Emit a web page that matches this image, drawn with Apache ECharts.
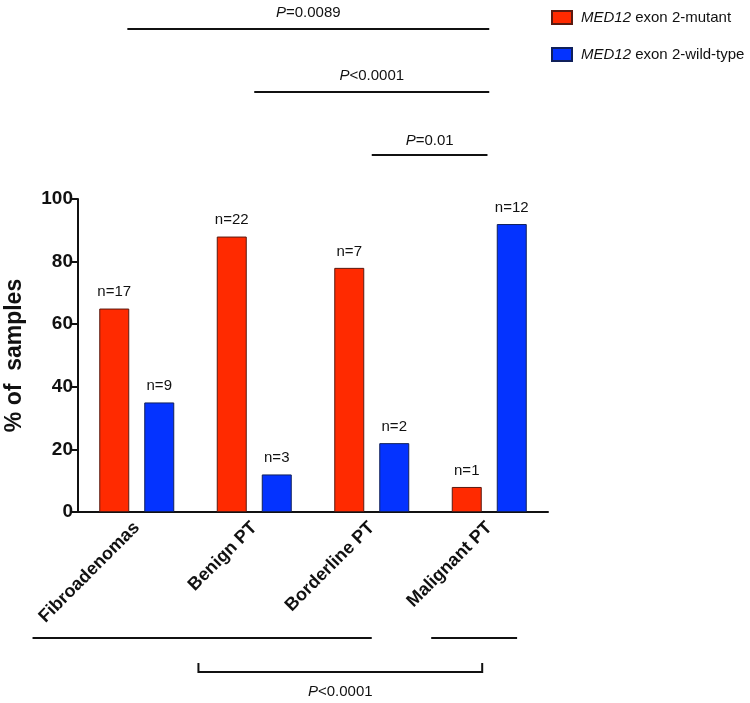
<!DOCTYPE html>
<html><head><meta charset="utf-8">
<script src="https://cdn.jsdelivr.net/npm/echarts@6/dist/echarts.min.js"></script>
<style>html,body{margin:0;padding:0;background:#fff}#c{width:750px;height:703px}</style>
</head><body><div id="c"></div>
<script>
var categories = ['Fibroadenomas', 'Benign PT', 'Borderline PT', 'Malignant PT'];
var mutantPct = [65, 88, 78, 8];
var wildPct = [35, 12, 22, 92];
var mutantN = ['n=17', 'n=22', 'n=7', 'n=1'];
var wildN = ['n=9', 'n=3', 'n=2', 'n=12'];
var yTicks = [0, 20, 40, 60, 80, 100];
// significance annotations: category-unit positions, pixel row, label
var topBars = [
  {from: -0.08, to: 3.0, y: 29, label: '=0.0089', textY: 13},
  {from: 1.0, to: 3.0, y: 92, label: '<0.0001', textY: 76},
  {from: 2.0, to: 2.985, y: 155, label: '=0.01', textY: 141}
];
var bottomLines = [{from: -0.887, to: 2.0, y: 638}, {from: 2.506, to: 3.237, y: 638}];
var bracket = {from: 0.525, to: 2.94, y: 672, h: 9, label: '<0.0001', textY: 692};

var chart = echarts.init(document.getElementById('c'), null, {renderer: 'canvas'});
var FONT = 'Liberation Sans, Arial, sans-serif';
var option = {
  animation: false,
  backgroundColor: '#fff',
  grid: {left: 78, right: 202, top: 199, bottom: 191, containLabel: false, outerBoundsMode: 'none'},
  legend: {
    orient: 'vertical', left: 546, top: 5, itemWidth: 20, itemHeight: 13, itemGap: 22,
    icon: 'rect',
    textStyle: {fontFamily: FONT, fontSize: 15, color: '#111', padding: [0, 0, 0, 4],
      rich: {i: {fontStyle: 'italic', fontFamily: FONT, fontSize: 15, color: '#111'}}},
    formatter: function (name) {
      return name === 'mut' ? '{i|MED12} exon 2-mutant' : '{i|MED12} exon 2-wild-type';
    },
    data: ['mut', 'wt']
  },
  xAxis: {
    type: 'category', data: categories,
    axisLine: {lineStyle: {color: '#111', width: 2}},
    axisTick: {alignWithLabel: true, length: 5, lineStyle: {color: '#111', width: 2}},
    axisLabel: {rotate: 45, fontFamily: FONT, fontWeight: 'bold', fontSize: 18, color: '#111', margin: 13, interval: 0}
  },
  yAxis: {
    type: 'value', min: 0, max: 100, interval: 20,
    name: '% of  samples', nameLocation: 'middle', nameGap: 52,
    nameTextStyle: {fontFamily: FONT, fontWeight: 'bold', fontSize: 23, color: '#111'},
    axisLine: {show: true, lineStyle: {color: '#111', width: 2}},
    axisTick: {show: true, length: 7, lineStyle: {color: '#111', width: 2}},
    splitLine: {show: false},
    axisLabel: {fontFamily: FONT, fontWeight: 'bold', fontSize: 19, color: '#111', margin: 5,
      formatter: function (v) { return yTicks.indexOf(v) >= 0 ? String(v) : ''; }}
  },
  series: [
    {name: 'mut', type: 'bar', data: mutantPct, barWidth: 30, barGap: '50%',
      itemStyle: {color: '#ff2a00', borderColor: '#5a1a10', borderWidth: 1},
      label: {show: true, position: 'top', distance: 9, fontFamily: FONT, fontSize: 15, color: '#111',
        formatter: function (p) { return mutantN[p.dataIndex]; }}},
    {name: 'wt', type: 'bar', data: wildPct, barWidth: 30,
      itemStyle: {color: '#0433ff', borderColor: '#10205a', borderWidth: 1},
      label: {show: true, position: 'top', distance: 9, fontFamily: FONT, fontSize: 15, color: '#111',
        formatter: function (p) { return wildN[p.dataIndex]; }}}
  ]
};
chart.setOption(option);

var c0 = chart.convertToPixel({xAxisIndex: 0}, 0);
var c1 = chart.convertToPixel({xAxisIndex: 0}, 1);
var band = c1 - c0;
function px(f) { return c0 + f * band; }
var g = [];
var lineStyle = {stroke: '#111', lineWidth: 2};
function pText(x, y, rest) {
  return {type: 'text', x: x, y: y, style: {
    text: '{i|P}{n|' + rest + '}', align: 'center', verticalAlign: 'middle',
    rich: {i: {fontStyle: 'italic', fontFamily: FONT, fontSize: 15, fill: '#111'},
           n: {fontFamily: FONT, fontSize: 15, fill: '#111'}}}};
}
topBars.forEach(function (b) {
  var x1 = px(b.from), x2 = px(b.to);
  g.push({type: 'line', shape: {x1: x1, y1: b.y, x2: x2, y2: b.y}, style: lineStyle});
  g.push(pText((x1 + x2) / 2, b.textY, b.label));
});
bottomLines.forEach(function (b) {
  g.push({type: 'line', shape: {x1: px(b.from), y1: b.y, x2: px(b.to), y2: b.y}, style: lineStyle});
});
var bx1 = px(bracket.from), bx2 = px(bracket.to);
g.push({type: 'polyline', shape: {points: [[bx1, bracket.y - bracket.h], [bx1, bracket.y], [bx2, bracket.y], [bx2, bracket.y - bracket.h]]}, style: {stroke: '#111', lineWidth: 2, fill: null}});
g.push(pText((bx1 + bx2) / 2, bracket.textY, bracket.label));
chart.setOption({graphic: g});
</script></body></html>
